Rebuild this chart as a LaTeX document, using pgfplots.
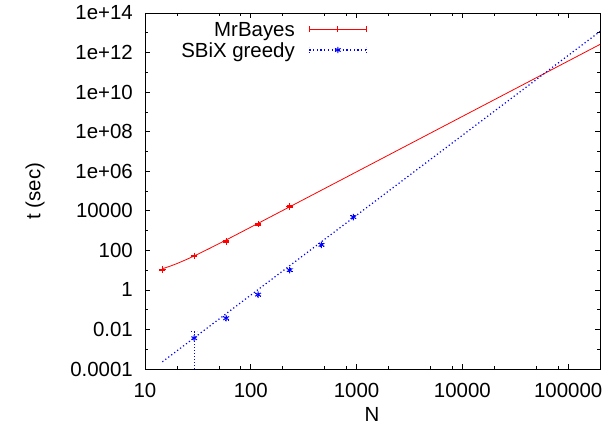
\documentclass[border=0pt]{standalone}
\usepackage{fontspec}
\setmainfont{Liberation Sans}
\usepackage{pgfplots}
\pgfplotsset{compat=1.18}
\definecolor{gpred}{rgb}{1,0,0}
\definecolor{gpblue}{rgb}{0,0,1}
\begin{document}
\begin{tikzpicture}[font=\fontsize{20.5}{24}\selectfont]
\begin{axis}[
 scale only axis, width=455bp, height=356bp,
 xmode=log, ymode=log,
 xmin=10, xmax=200000, ymin=1e-4, ymax=1e14,
 xtick={10,100,1000,10000,100000},
 xticklabels={\mbox{10},\mbox{100},\mbox{1000},\mbox{10000},\mbox{100000}},
 minor xtick={20,50,80,200,500,800,2000,5000,8000,20000,50000,80000},
 ytick={1e-4,1e-2,1,100,1e4,1e6,1e8,1e10,1e12,1e14},
 yticklabels={\mbox{0.0001},\mbox{0.01},\mbox{1},\mbox{100},\mbox{10000},\mbox{1e+06},\mbox{1e+08},\mbox{1e+10},\mbox{1e+12},\mbox{1e+14}},
 minor ytick={1e-3,1e-1,10,1e3,1e5,1e7,1e9,1e11,1e13},
 tick align=inside, major tick length=5bp, minor tick length=3bp,
 tick style={black, line width=0.6bp},
 axis line style={black, line width=0.8bp},
 /pgf/number format/assume math mode=true,
 xticklabel style={inner sep=0pt, anchor=north, yshift=-14bp},
 yticklabel style={inner sep=0pt, anchor=east, xshift=-12bp},
 xlabel={N}, ylabel={t (sec)},
 xlabel style={at={(axis description cs:0.499,-0.129)}, anchor=center, inner sep=0pt},
 ylabel style={at={(axis description cs:-0.2418,0.5)}, anchor=center, inner sep=0pt},
 legend style={at={(axis description cs:0.4879,0.9846)}, anchor=north east, draw=none, fill=none,
   inner sep=0pt, outer sep=0pt, row sep=0pt, column sep=14bp,
   nodes={inner sep=0pt, text height=17.8bp, text depth=3.2bp}},
 legend plot pos=right, legend cell align=right,
]
\coordinate (bl) at (rel axis cs:0,0);
\coordinate (tr) at (rel axis cs:1,1);
% MrBayes data
\addplot[gpred, only marks, mark=+, mark size=3.2bp, mark options={line width=1bp},
 error bars/.cd, y dir=both, y explicit,
 error bar style={gpred, line width=0.8bp},
 error mark options={gpred, line width=0.8bp, rotate=90, mark size=3bp},
 /pgfplots/legend image code/.code={
   \draw[gpred,line width=0.8bp] (0bp,0bp) -- (57bp,0bp);
   \draw[gpred,line width=0.8bp] (0bp,-3bp) -- (0bp,3bp) (57bp,-3bp) -- (57bp,3bp);
   \draw[gpred,line width=0.8bp] (28.5bp,-3.2bp) -- (28.5bp,3.2bp);
 }]
 coordinates {(14.6,10.7) +- (0,0.8) (29.2,52) +- (0,4) (58.4,280) +- (0,25) (117,2130) +- (0,200) (233,16500) +- (0,1500)};
\addlegendentry{MrBayes}
% SBiX greedy data
\addplot[gpblue, only marks, mark=asterisk, mark size=3.2bp, mark options={line width=1bp},
 error bars/.cd, y dir=both, y explicit,
 error bar style={gpblue, line width=1bp, dash pattern=on 1.2bp off 1.8bp},
 error mark options={gpblue, line width=1bp, rotate=90, mark size=3bp, dash pattern=on 1.2bp off 1.8bp},
 /pgfplots/legend image code/.code={
   \draw[gpblue,line width=1.2bp, dash pattern=on 1.2bp off 2.5bp] (0bp,0bp) -- (57bp,0bp);
   \draw[gpblue,line width=1bp, dash pattern=on 1.2bp off 1.8bp] (0bp,-3bp) -- (0bp,3bp) (57bp,-3bp) -- (57bp,3bp);
   \draw[gpblue, mark=asterisk, mark size=3.2bp, mark options={line width=1bp}] plot coordinates {(28.5bp,0bp)};
 }]
 coordinates {
 (29.2,0.0036) += (0,0.0041) -= (0,0.00359)
 (58.4,0.037) +- (0,0.008)
 (117,0.58) +- (0,0.1)
 (233,10) +- (0,1.8)
 (466,190) +- (0,35)
 (932,4800) +- (0,800)
 };
\addlegendentry{SBiX greedy}
% fits
\addplot[gpred, no marks, line width=0.8bp, forget plot] coordinates {
 (14.6,11.8) (17,15.3) (20,21.3) (25,35.5) (30,55.9) (40,118.8) (50,217.5) (70,550)
 (100,1484) (150,4609) (200,10307) (300,32070) (1000,9.33e5) (10000,5.89e8) (200000,2.58e12)};
\addplot[gpblue, no marks, line width=1.2bp, dash pattern=on 1.2bp off 2.5bp, forget plot] coordinates {
 (14.6,2.3e-4) (200000,1.17e13)};
\end{axis}
\pgfresetboundingbox
\path[use as bounding box] ([shift={(-145bp,-62bp)}]bl) rectangle ([shift={(8bp,13bp)}]tr);
\end{tikzpicture}
\end{document}
